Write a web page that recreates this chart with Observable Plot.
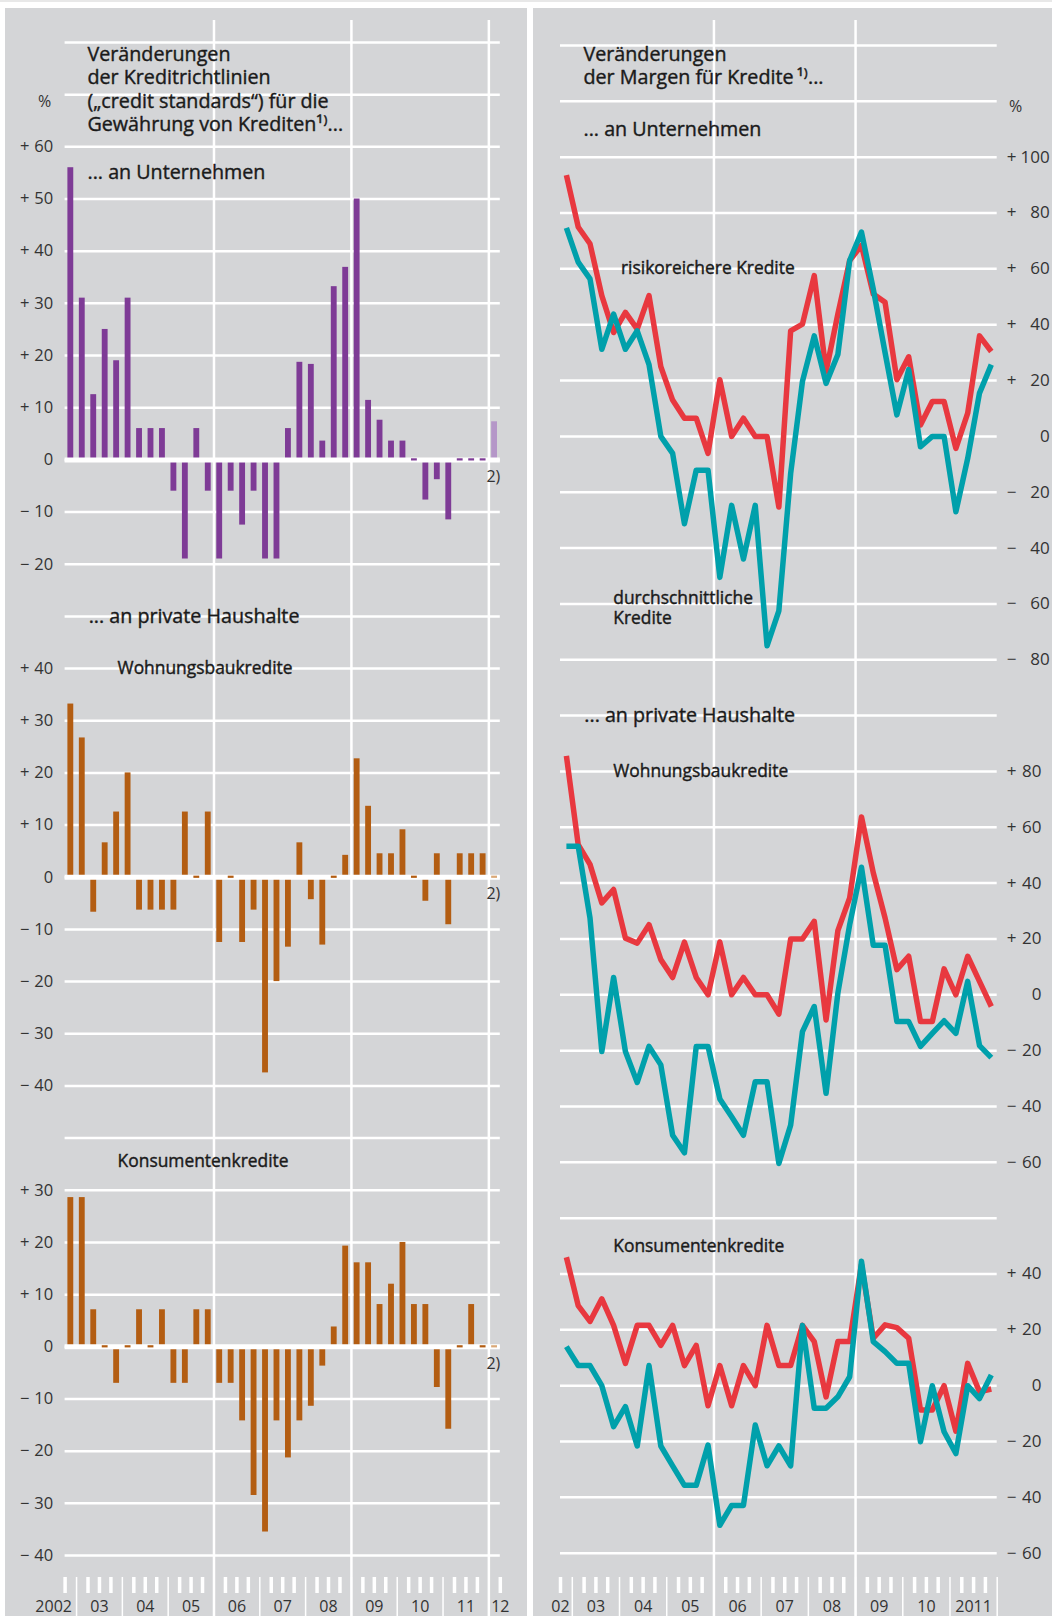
<!DOCTYPE html>
<html><head><meta charset="utf-8">
<script src="https://cdn.jsdelivr.net/npm/d3@7"></script>
<script src="https://cdn.jsdelivr.net/npm/@observablehq/plot@0.6"></script>
<style>
html,body{margin:0;padding:0;background:#fff;}
#wrap{position:relative;width:1052px;height:1616px;overflow:hidden;font-family:"Open Sans",sans-serif;}
#topline{position:absolute;left:0;top:0;width:1052px;height:2px;background:#e8e8e8;}
.panel{position:absolute;background:#d4d5d7;}
#wrap svg{position:absolute;left:0;top:0;}
</style></head>
<body>
<div id="wrap">
  <div id="topline"></div>
  <div class="panel" style="left:5px;top:8px;width:522px;height:1608px"></div>
  <div class="panel" style="left:533px;top:8px;width:519px;height:1608px"></div>
</div>
<script>
// ---------- data ----------
const quarters = ["2002Q4",
  "2003Q1","2003Q2","2003Q3","2003Q4","2004Q1","2004Q2","2004Q3","2004Q4",
  "2005Q1","2005Q2","2005Q3","2005Q4","2006Q1","2006Q2","2006Q3","2006Q4",
  "2007Q1","2007Q2","2007Q3","2007Q4","2008Q1","2008Q2","2008Q3","2008Q4",
  "2009Q1","2009Q2","2009Q3","2009Q4","2010Q1","2010Q2","2010Q3","2010Q4",
  "2011Q1","2011Q2","2011Q3","2011Q4","2012Q1"];
const forecastQuarter = "2012Q1";

// credit standards (left, bars)
const standardsUnternehmen = [56, 31, 12.5, 25, 19, 31, 6, 6, 6, -6, -19, 6, -6, -19, -6, -12.5, -6, -19, -19, 6,
  18.7, 18.3, 3.6, 33.2, 36.9, 50, 11.4, 7.6, 3.6, 3.6, 0, -7.7, -3.8, -11.5, 0, 0, 0, 7.3];
const standardsWohnungsbau = [33.2, 26.7, -6.7, 6.6, 12.5, 20, -6.3, -6.3, -6.3, -6.3, 12.5, 0, 12.5, -12.5, 0, -12.5, -6.3, -37.5, -20, -13.4,
  6.6, -4.3, -13, 0, 4.2, 22.7, 13.6, 4.5, 4.5, 9.1, 0, -4.6, 4.5, -9.1, 4.5, 4.5, 4.5, 0];
const standardsKonsum = [28.6, 28.6, 7.1, 0, -7, 0, 7.1, 0, 7.1, -7, -7, 7.1, 7.1, -7, -7, -14.2, -28.5, -35.5, -14.2, -21.3,
  -14.2, -11.4, -3.7, 3.8, 19.3, 16.1, 16.1, 8.1, 12, 20, 8.1, 8.1, -7.8, -15.8, 0, 8.1, 0, 0];

// margins (right, lines) 2002Q4 - 2011Q4
const margenUntRisiko = [93.6, 75, 69, 50.4, 37.2, 44.4, 38.4, 50.4, 25, 13, 6.5, 6.5, -6.1, 20.3, 0, 6.5, 0, 0, -25.3, 37.8,
  40.2, 57.6, 23.3, 43.8, 63, 68.4, 51, 48, 20.3, 28.5, 4.1, 12.5, 12.5, -4.3, 8.3, 36, 30.4];
const margenUntDurchschnitt = [74.7, 62.4, 56.4, 31.2, 43.8, 31.2, 37.8, 25.7, 0, -6.1, -31.3, -12.1, -12.1, -50.5, -24.7, -43.9, -24.7, -75, -62.5, -13.3,
  19.7, 36, 19, 29.3, 63, 73.2, 52.8, 30, 7.7, 23.9, -3.7, 0, 0, -27, -7.9, 15.5, 25.7];
const margenWohnRisiko = [85.6, 53.8, 46.7, 32.9, 37.7, 20.3, 18.5, 25.1, 12.6, 6.2, 18.9, 6.2, 0, 18.9, 0, 6.2, 0, 0, -6.9, 20,
  20, 26.3, -9, 23, 34.7, 63.7, 43.7, 27.5, 9, 13.8, -9.6, -9.6, 9.3, 0, 13.8, 4.8, -4.2];
const margenWohnDurchschnitt = [53.2, 53.2, 27.5, -20.3, 6.2, -20.3, -31.4, -18.5, -25.1, -50.3, -56.6, -18.5, -18.5, -37.3, -43.7, -50.3, -31.1, -31.1, -60.4, -46.7,
  -13.2, -4.2, -35.3, 0.6, 25.1, 45.7, 17.7, 17.7, -9.6, -9.6, -18.5, -13.8, -9.3, -13.8, 4.8, -18.2, -22.5];
const margenKonsRisiko = [46, 28.7, 23, 31.1, 21.6, 8, 21.6, 21.6, 14.4, 21.6, 7.2, 14.4, -7.2, 7.2, -7.2, 7.2, 0, 21.6, 7.2, 7.2,
  21.6, 15.8, -4, 15.8, 15.8, 43.4, 17, 21.8, 20.8, 17, -8.7, -8.7, 0, -16.3, 8, -2.2, -1.2];
const margenKonsDurchschnitt = [14, 7.2, 7.2, 0, -14.7, -7.5, -21.6, 7.2, -21.6, -28.7, -35.7, -35.7, -21.3, -50, -42.9, -42.9, -14.1, -28.7, -21.6, -28.7,
  21.6, -8.1, -8.1, -4, 3.2, 44.6, 15.8, 12.2, 8, 8, -20.1, 0, -16.5, -24.3, 0, -4.6, 3.8];

// tick labels
const leftTicksUnt = [60, 50, 40, 30, 20, 10, 0, -10, -20];
const leftTicksWohn = [40, 30, 20, 10, 0, -10, -20, -30, -40];
const leftTicksKons = [30, 20, 10, 0, -10, -20, -30, -40];
const rightTicksUnt = [100, 80, 60, 40, 20, 0, -20, -40, -60, -80];
const rightTicksWohn = [80, 60, 40, 20, 0, -20, -40, -60];
const rightTicksKons = [40, 20, 0, -20, -40, -60];
const leftYearLabels = ["2002","03","04","05","06","07","08","09","10","11","12"];
const rightYearLabels = ["02","03","04","05","06","07","08","09","10","2011"];
const firstYear = 2002;

// ---------- styling ----------
const BG = "#d4d5d7", TXT = "#1a1a1a", TICK = "#333333";
const PURPLE = "#7e3b96", PURPLE_L = "#b597c8", ORANGE = "#b35d12", ORANGE_L = "#daa877";
const RED = "#e8383f", TEAL = "#00a0ab";
const FONT = "Open Sans";
const T1 = 19.7, T2 = 17.4;

const qStart = s => +s.slice(0, 4) + (+s.slice(5) - 1) / 4;
const qMid = s => qStart(s) + 0.125;

// label on a grey "knock-out" box (box is added after rendering, from the text's own bbox)
function label(data, o) {
  const {fill = TXT, bold = 0.4, ...rest} = o;
  return Plot.text(data, {...rest, fill, stroke: bold ? fill : undefined, strokeWidth: bold || undefined, ariaLabel: "knockout"});
}
function signedTicks(ticks, offset, o) {
  const d = ticks.map(v => ({v, g: v + offset}));
  return [
    Plot.text(d.filter(t => t.v !== 0), {y: "g", text: t => t.v > 0 ? "+" : "\u2212", textAnchor: "start",
      frameAnchor: o.anchor, dx: o.signDx, fontSize: o.fontSize, fill: TICK, lineAnchor: "middle"}),
    Plot.text(d, {y: "g", text: t => String(Math.abs(t.v)), textAnchor: "end",
      frameAnchor: o.anchor, dx: o.numDx, fontSize: o.fontSize, fill: TICK, lineAnchor: "middle"})
  ];
}

// ---------- LEFT PANEL ----------
const L = {x0: 2002.75, x1: 2012.25, left: 64.6, right: 499.8, top: 42, bottom: 1555};
const leftCharts = [
  {values: standardsUnternehmen, offset: 0, color: PURPLE, light: PURPLE_L},
  {values: standardsWohnungsbau, offset: -80, color: ORANGE, light: ORANGE_L},
  {values: standardsKonsum, offset: -170, color: ORANGE, light: ORANGE_L}
];
const barMarks = [];
for (const c of leftCharts) {
  const rows = c.values.map((v, i) => ({
    x1: qStart(quarters[i]), x2: qStart(quarters[i]) + 0.25,
    base: c.offset, top: c.offset + v, v, fc: quarters[i] === forecastQuarter
  }));
  const opts = {x1: "x1", x2: "x2", y1: "base", y2: "top", insetLeft: 2.8, insetRight: 2.8};
  barMarks.push(Plot.rect(rows.filter(d => d.v !== 0 && !d.fc), {...opts, fill: c.color}));
  barMarks.push(Plot.rect(rows.filter(d => d.v !== 0 && d.fc), {...opts, fill: c.light}));
  c.zeros = rows.filter(d => d.v === 0);
}
const zeroMarks = leftCharts.flatMap(c => [
  Plot.rect(c.zeros.filter(d => !d.fc), {x1: "x1", x2: "x2", y1: "base", y2: "base", insetLeft: 2.8, insetRight: 2.8, insetTop: -1.1, insetBottom: -1.1, fill: c.color}),
  Plot.rect(c.zeros.filter(d => d.fc), {x1: "x1", x2: "x2", y1: "base", y2: "base", insetLeft: 2.8, insetRight: 2.8, insetTop: -1.1, insetBottom: -1.1, fill: c.light})
]);

const leftQuarterTicks = d3.range(L.x0, L.x1 + 0.01, 0.25).filter(v => v % 1 !== 0);
const leftYearLines = d3.range(2003, 2013);
const leftLabelData = leftYearLabels.map((t, i) => ({t, x: Math.min(firstYear + i + 0.5, L.x1)}));

const leftTitle = "Veränderungen\nder Kreditrichtlinien\n(„credit standards“) für die\nGewährung von Krediten\u00B9\u207E...";

const leftPlot = Plot.plot({
  width: 1052, height: 1616,
  marginLeft: L.left, marginRight: 1052 - L.right, marginTop: L.top, marginBottom: 1616 - L.bottom,
  x: {domain: [L.x0, L.x1], axis: null},
  y: {domain: [-210, 80], axis: null},
  style: {background: "none", overflow: "visible", fontFamily: FONT},
  marks: [
    Plot.ruleY(d3.range(-210, 81, 10), {stroke: "white", strokeWidth: 2.5}),
    Plot.ruleX([2006, 2009, 2012], {stroke: "white", strokeWidth: 2.5, insetTop: -22, insetBottom: -61}),
    Plot.ruleX(leftQuarterTicks, {stroke: "white", strokeWidth: 3.5, insetTop: 1535, insetBottom: -38}),
    Plot.ruleX(leftYearLines, {stroke: "white", strokeWidth: 1.5, insetTop: 1535, insetBottom: -61}),
    label([leftTitle], {frameAnchor: "top-left", dx: 22.4, dy: 1.5, textAnchor: "start", lineAnchor: "top", lineHeight: 1.19, fontSize: T1}),
    Plot.text(["%"], {frameAnchor: "top-left", dx: -20.6, dy: 59.5, textAnchor: "middle", lineAnchor: "middle", fontSize: 16, fill: TICK}),
    label(["... an Unternehmen"], {frameAnchor: "left", y: () => 55, dx: 22.4, textAnchor: "start", lineAnchor: "middle", fontSize: T1}),
    label(["... an private Haushalte"], {frameAnchor: "left", y: () => -30, dx: 23.6, textAnchor: "start", lineAnchor: "middle", fontSize: T1}),
    label(["Wohnungsbaukredite"], {frameAnchor: "left", y: () => -40, dx: 52.5, textAnchor: "start", lineAnchor: "middle", fontSize: T2}),
    label(["Konsumentenkredite"], {frameAnchor: "left", y: () => -170 + 35.5, dx: 52.5, textAnchor: "start", lineAnchor: "middle", fontSize: T2}),
    ...barMarks,
    label(leftCharts.map(c => c.offset), {frameAnchor: "right", y: d => d, text: () => "2)", dy: 10.5, textAnchor: "end", lineAnchor: "top", fontSize: 16, fill: TICK, bold: 0}),
    Plot.ruleY(leftCharts.map(c => c.offset), {stroke: "white", strokeWidth: 5}),
    ...zeroMarks,
    ...signedTicks(leftTicksUnt, 0, {anchor: "left", signDx: -45, numDx: -12, fontSize: 16.5}),
    ...signedTicks(leftTicksWohn, -80, {anchor: "left", signDx: -45, numDx: -12, fontSize: 16.5}),
    ...signedTicks(leftTicksKons, -170, {anchor: "left", signDx: -45, numDx: -12, fontSize: 16.5}),
    Plot.text(leftLabelData, {x: "x", text: "t", frameAnchor: "bottom", dy: 56.5, lineAnchor: "bottom", textAnchor: "middle", fontSize: 16, fill: TICK})
  ]
});

// ---------- RIGHT PANEL ----------
const R = {x0: 2002.75, x1: 2012, left: 560, right: 996.7, top: 45, bottom: 1552.7};
const rightCharts = [
  {risk: margenUntRisiko, avg: margenUntDurchschnitt, offset: 0},
  {risk: margenWohnRisiko, avg: margenWohnDurchschnitt, offset: -200},
  {risk: margenKonsRisiko, avg: margenKonsDurchschnitt, offset: -340}
];
const lineMarks = [];
for (const c of rightCharts) {
  const red = c.risk.map((v, i) => ({x: qMid(quarters[i]), y: c.offset + v}));
  const teal = c.avg.map((v, i) => ({x: qMid(quarters[i]), y: c.offset + v}));
  lineMarks.push(Plot.line(red, {x: "x", y: "y", stroke: RED, strokeWidth: 5.5, strokeLinecap: "butt", strokeLinejoin: "round"}));
  lineMarks.push(Plot.line(teal, {x: "x", y: "y", stroke: TEAL, strokeWidth: 5.5, strokeLinecap: "butt", strokeLinejoin: "round"}));
}
const rightQuarterTicks = d3.range(R.x0, R.x1 + 0.01, 0.25).filter(v => v % 1 !== 0);
const rightYearLines = d3.range(2003, 2013);
const rightLabelData = rightYearLabels.map((t, i) => ({t, x: Math.max(firstYear + i + 0.5, R.x0)}));
const rightTitle = "Veränderungen\nder Margen für Kredite\u2009\u00B9\u207E...";

const rightPlot = Plot.plot({
  width: 1052, height: 1616,
  marginLeft: R.left, marginRight: 1052 - R.right, marginTop: R.top, marginBottom: 1616 - R.bottom,
  x: {domain: [R.x0, R.x1], axis: null},
  y: {domain: [-400, 140], axis: null},
  style: {background: "none", overflow: "visible", fontFamily: FONT},
  marks: [
    Plot.ruleY(d3.range(-400, 141, 20), {stroke: "white", strokeWidth: 2.5}),
    Plot.ruleX([2006, 2009], {stroke: "white", strokeWidth: 2.5, insetTop: -25, insetBottom: -63.3}),
    Plot.ruleX(rightQuarterTicks, {stroke: "white", strokeWidth: 3.5, insetTop: 1532, insetBottom: -40.3}),
    Plot.ruleX(rightYearLines, {stroke: "white", strokeWidth: 1.5, insetTop: 1532, insetBottom: -63.3}),
    label([rightTitle], {frameAnchor: "top-left", dx: 23, dy: -0.5, textAnchor: "start", lineAnchor: "top", lineHeight: 1.15, fontSize: T1}),
    Plot.text(["%"], {frameAnchor: "top-right", dx: 18.3, dy: 61.5, textAnchor: "middle", lineAnchor: "middle", fontSize: 16, fill: TICK}),
    label(["... an Unternehmen"], {frameAnchor: "left", y: () => 110, dx: 23, textAnchor: "start", lineAnchor: "middle", fontSize: T1}),
    label(["risikoreichere Kredite"], {frameAnchor: "left", y: () => 60, dx: 60.5, textAnchor: "start", lineAnchor: "middle", fontSize: T2}),
    label(["durchschnittliche\nKredite"], {frameAnchor: "left", y: () => -61.2, dx: 52.8, textAnchor: "start", lineAnchor: "middle", lineHeight: 1.16, fontSize: T2}),
    label(["... an private Haushalte"], {frameAnchor: "left", y: () => -100, dx: 23.8, textAnchor: "start", lineAnchor: "middle", fontSize: T1}),
    label(["Wohnungsbaukredite"], {frameAnchor: "left", y: () => -120, dx: 52.8, textAnchor: "start", lineAnchor: "middle", fontSize: T2}),
    label(["Konsumentenkredite"], {frameAnchor: "left", y: () => -290, dx: 52.8, textAnchor: "start", lineAnchor: "middle", fontSize: T2}),
    ...lineMarks,
    ...signedTicks(rightTicksUnt, 0, {anchor: "right", signDx: 9.5, numDx: 52.5, fontSize: 17}),
    ...signedTicks(rightTicksWohn, -200, {anchor: "right", signDx: 9.5, numDx: 44.3, fontSize: 17}),
    ...signedTicks(rightTicksKons, -340, {anchor: "right", signDx: 9.5, numDx: 44.3, fontSize: 17}),
    Plot.text(rightLabelData, {x: "x", text: "t", frameAnchor: "bottom", dy: 58.8, lineAnchor: "bottom", textAnchor: "middle", fontSize: 16, fill: TICK})
  ]
});

document.getElementById("wrap").append(leftPlot, rightPlot);

// grey knock-out boxes behind the labels (they interrupt the white grid lines, as in the original)
const NS = "http://www.w3.org/2000/svg";
for (const svg of [leftPlot, rightPlot]) {
  svg.querySelectorAll('g[aria-label="knockout"] text').forEach(t => {
    const parts = t.querySelectorAll("tspan").length ? Array.from(t.querySelectorAll("tspan")) : [t];
    for (const p of parts) {
      let b;
      try { b = p.getBBox(); } catch (e) { continue; }
      if (!b || !b.width) continue;
      const padX = 9, padY = 1;
      const r = document.createElementNS(NS, "rect");
      r.setAttribute("x", b.x - padX);
      r.setAttribute("y", b.y - padY);
      r.setAttribute("width", b.width + 2 * padX);
      r.setAttribute("height", b.height + 2 * padY);
      r.setAttribute("fill", BG);
      if (t.getAttribute("transform")) r.setAttribute("transform", t.getAttribute("transform"));
      t.parentNode.insertBefore(r, t);
    }
  });
}
</script>
</body></html>
